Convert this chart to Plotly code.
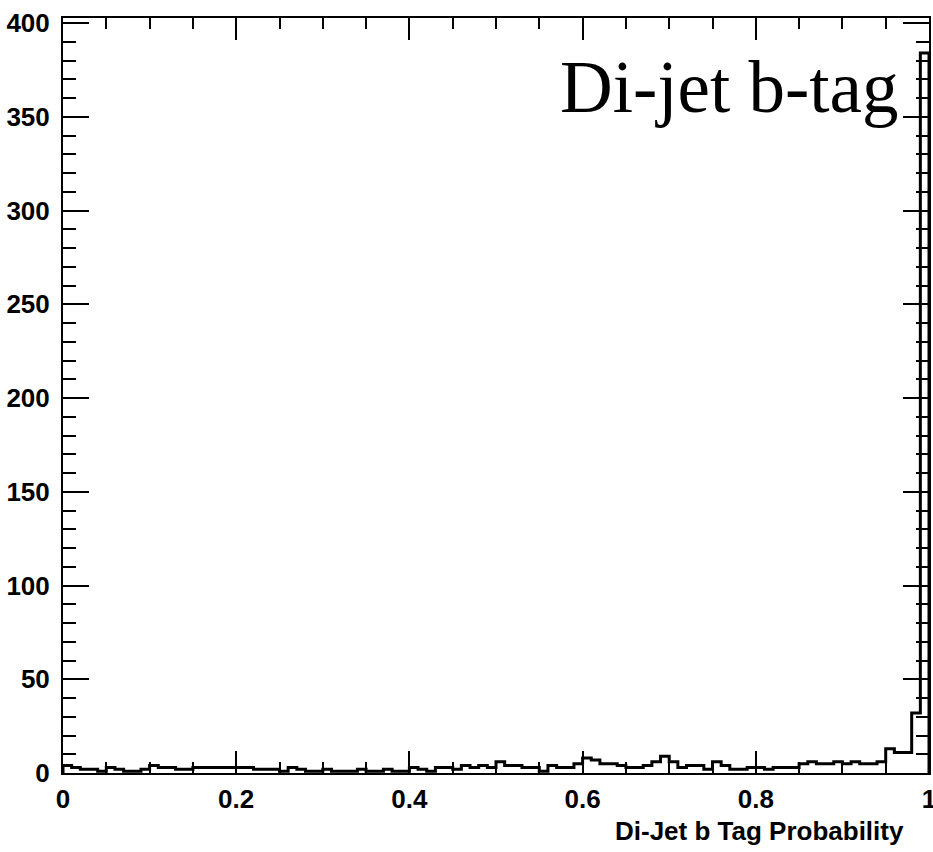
import plotly.graph_objects as go

# Histogram: 100 bins on [0, 1]
bin_low = 0.0
bin_high = 1.0
counts = [
    4, 3, 2, 2, 1, 3, 2, 1, 1, 2,
    4, 3, 3, 2, 2, 3, 3, 3, 3, 3,
    3, 3, 2, 2, 2, 1, 3, 2, 1, 1,
    2, 1, 1, 1, 2, 1, 1, 2, 1, 1,
    3, 2, 1, 3, 3, 2, 4, 3, 4, 3,
    6, 4, 4, 3, 3, 1, 4, 3, 3, 5,
    8, 7, 5, 5, 4, 3, 3, 4, 6, 9,
    6, 3, 4, 4, 2, 6, 4, 2, 2, 3,
    3, 2, 3, 3, 3, 5, 6, 5, 5, 6,
    5, 6, 5, 5, 6, 13, 11, 11, 32, 384,
]
x_ticks = [0, 0.2, 0.4, 0.6, 0.8, 1]
x_ticklabels = ["0", "0.2", "0.4", "0.6", "0.8", "1"]
y_ticks = [0, 50, 100, 150, 200, 250, 300, 350, 400]
x_title = "Di-Jet b Tag Probability"
plot_label = "Di-jet b-tag"

nb = len(counts)
w = (bin_high - bin_low) / nb
edges = [bin_low + i * w for i in range(nb + 1)]
xs = [edges[0]] + edges + [edges[-1]]
ys = [0] + counts + [counts[-1], 0]

fig = go.Figure()
fig.add_trace(go.Scatter(
    x=xs, y=ys, mode="lines", line=dict(shape="hv", color="black", width=3),
    hoverinfo="skip", showlegend=False, cliponaxis=False,
))

tickfont = dict(family="Liberation Sans, Arial, sans-serif", size=26, color="black", weight="bold")

fig.update_layout(
    width=933, height=852,
    margin=dict(l=63, r=4, t=18, b=79, autoexpand=False),
    paper_bgcolor="white", plot_bgcolor="white",
    xaxis=dict(
        range=[0, 1], tickvals=x_ticks, ticktext=x_ticklabels,
        showgrid=False, zeroline=False, automargin=False,
        showline=True, linecolor="black", linewidth=2, mirror="allticks",
        ticks="inside", ticklen=22, tickwidth=2, tickcolor="black",
        minor=dict(dtick=0.05, ticks="inside", ticklen=11, tickwidth=2, tickcolor="black", showgrid=False),
        tickfont=tickfont, ticklabeloverflow="allow", ticklabelstandoff=2,
    ),
    yaxis=dict(
        range=[0, 402.7], tickvals=y_ticks,
        showgrid=False, zeroline=False, automargin=False,
        showline=True, linecolor="black", linewidth=2, mirror="allticks",
        ticks="inside", ticklen=26, tickwidth=2, tickcolor="black",
        minor=dict(dtick=10, ticks="inside", ticklen=13, tickwidth=2, tickcolor="black", showgrid=False),
        tickfont=tickfont, ticklabelstandoff=6,
    ),
    annotations=[
        dict(text=x_title, xref="paper", yref="paper", x=0.974, y=-0.077,
             xanchor="right", yanchor="middle", showarrow=False,
             font=dict(family="Liberation Sans, Arial, sans-serif", size=26, color="black", weight="bold")),
        dict(text=plot_label, xref="paper", yref="paper", x=0.9675, y=0.9086,
             xanchor="right", yanchor="middle", showarrow=False,
             font=dict(family="Liberation Serif, Times New Roman, serif", size=73, color="black")),
    ],
)

fig.write_html("out.html")
